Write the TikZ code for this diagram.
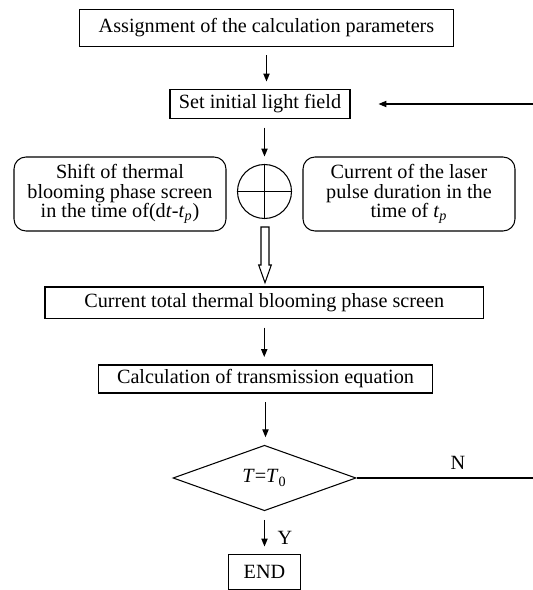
\documentclass[tikz,border=0pt]{standalone}
\usepackage{fontspec}
\setmainfont{Liberation Serif}
\usetikzlibrary{arrows.meta,shapes.geometric}

\begin{document}
\begin{tikzpicture}[
    font=\fontsize{11.5}{10.9}\selectfont,
    line width=0.6pt,
    box/.style={draw, inner sep=0pt, minimum height=0.58cm},
    roundbox/.style={draw, rounded corners=0.24cm, align=center, minimum width=4.24cm, minimum height=1.48cm, inner sep=0pt},
    flow/.style={-{Triangle[length=4.5pt,width=3.6pt]}, shorten <=0.17cm, shorten >=0.15cm}
  ]
  \useasboundingbox (0,0) rectangle (10.64,11.8);

    \node[box, minimum width=7.48cm, minimum height=0.73cm] at (5.33, 11.24) (assign) {Assignment of the calculation parameters};
    \node[box, minimum width=3.6cm] at (5.20, 9.72) (setfield) {Set initial light field};

    \node[draw, circle, minimum size=1.08cm, inner sep=0pt] at (5.29, 7.97) (sum) {};
    \draw (sum.north) -- (sum.south);
    \draw (sum.west) -- (sum.east);

    \node[roundbox] at (2.40, 7.92) (shift) {Shift of thermal\\blooming phase screen\\in the time of(d\textit{t}-\textit{t}\textsubscript{\textit{p}})};
    \node[roundbox] at (8.18, 7.92) (pulse) {Current of the laser\\pulse duration in the\\time of \textit{t}\textsubscript{\textit{p}}};

    \node[box, minimum width=8.77cm, minimum height=0.63cm] at (5.285, 5.745) (total) {Current total thermal blooming phase screen};
    \node[box, minimum width=6.69cm, minimum height=0.56cm] at (5.31, 4.22) (transm) {Calculation of transmission equation};

    \node[draw, diamond, minimum width=3.66cm, minimum height=1.31cm, inner sep=0pt] at (5.29, 2.24) (test) {\textit{T}=\textit{T}\textsubscript{0}};
    \node[box, minimum width=1.43cm, minimum height=0.70cm] at (5.29, 0.36) (end) {END};

    \coordinate (back) at (10.70, 9.72);

%Main flow
    \draw[flow] (assign.south) -- (assign.south |- setfield.north);
    \draw[flow] (setfield.south -| sum.north) -- (sum.north);
    \draw (sum.south) ++(-0.07,-0.16) -- ++(0,-0.76) -- ++(-0.046,0) -- ++(0.126,-0.354) -- ++(0.126,0.354) -- ++(-0.046,0) -- ++(0,0.76) -- cycle;
    \draw[flow] (total.south) -- (total.south |- transm.north);
    \draw[flow] (transm.south) -- (transm.south |- test.north);
    \draw[flow] (test.south) -- (end.north);

%Loop back
    \draw[flow, shorten <=0pt, shorten >=0.56cm] (test.east) -| (back) -- (setfield.east);

    \node[] at (9.16, 2.54) (nlabel) {N};
    \node[] at (5.70, 1.04) (ylabel) {Y};

\end{tikzpicture}
\end{document}
